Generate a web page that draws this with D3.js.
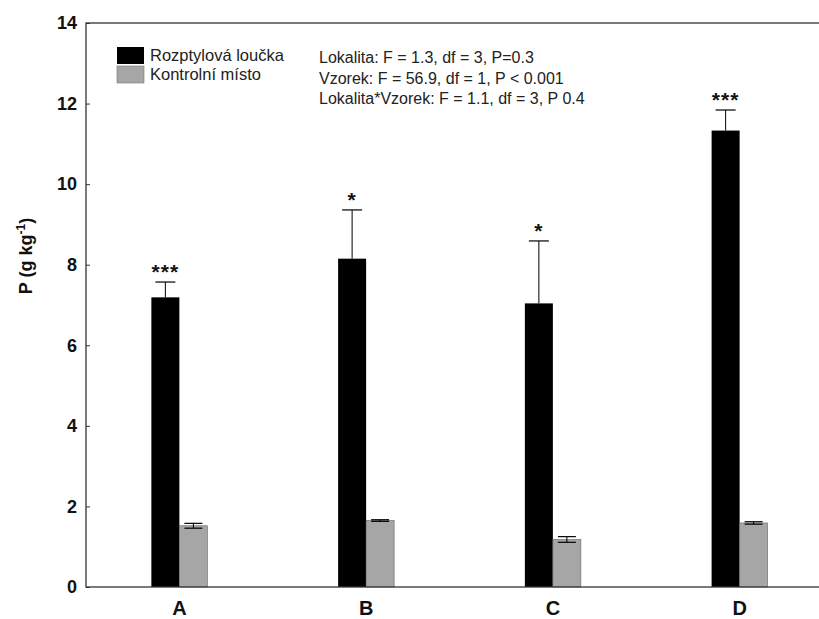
<!DOCTYPE html>
<html>
<head>
<meta charset="utf-8">
<script src="https://cdn.jsdelivr.net/npm/d3@7"></script>
<style>
  body { margin: 0; background: #fff; }
  text { font-family: "Liberation Sans", Arial, sans-serif; }
</style>
</head>
<body>
<script>
// data
var sites = ['A', 'B', 'C', 'D']
var seriesNames = ['Rozptylová loučka', 'Kontrolní místo']
var rozptyl = [7.19, 8.15, 7.04, 11.33]
var rozptylErr = [0.38, 1.21, 1.55, 0.51]
var kontrol = [1.52, 1.65, 1.18, 1.59]
var kontrolErr = [0.06, 0.02, 0.07, 0.03]
var stars = ['***', '*', '*', '***']
var yTicks = [0, 2, 4, 6, 8, 10, 12, 14]
var statLines = [
  'Lokalita: F = 1.3, df = 3, P=0.3',
  'Vzorek: F = 56.9, df = 1, P < 0.001',
  'Lokalita*Vzorek: F = 1.1, df = 3, P 0.4'
]
var colors = ['#000000', '#a6a6a6']

var margin = {top: 23, left: 86},
  width = 747,
  height = 564

var svg = d3.select('body')
  .append('svg')
  .attr('width', 819)
  .attr('height', 619)

var g = svg.append('g')
  .attr('transform', 'translate(' + margin.left + ',' + margin.top + ')')

var x = d3.scaleBand()
  .domain(sites)
  .range([0, width])
  .paddingInner(0.7)
  .paddingOuter(0.35)

var xs = d3.scaleBand()
  .domain([0, 1])
  .range([0, x.bandwidth()])

var y = d3.scaleLinear()
  .domain([0, 14])
  .range([height, 0])

// table built from the arrays
var rows = sites.map(function (s, i) {
  return [
    {site: s, k: 0, v: rozptyl[i], e: rozptylErr[i], star: stars[i]},
    {site: s, k: 1, v: kontrol[i], e: kontrolErr[i]}
  ]
})

var groups = g.selectAll('.grp')
  .data(rows)
  .enter().append('g')
  .attr('transform', function (d) { return 'translate(' + x(d[0].site) + ',0)' })

// black bar error bars: upper half only
groups.each(function (d) {
  var e = d[0]
  var cx = xs(0) + xs.bandwidth() / 2
  var sel = d3.select(this)
  sel.append('line')
    .attr('x1', cx).attr('x2', cx)
    .attr('y1', y(e.v)).attr('y2', y(e.v + e.e))
    .attr('stroke', '#000')
  sel.append('line')
    .attr('x1', cx - 10).attr('x2', cx + 10)
    .attr('y1', y(e.v + e.e)).attr('y2', y(e.v + e.e))
    .attr('stroke', '#000').attr('stroke-width', 1.2)
})

groups.selectAll('rect')
  .data(function (d) { return d })
  .enter().append('rect')
  .attr('x', function (d) { return xs(d.k) })
  .attr('width', xs.bandwidth())
  .attr('y', function (d) { return y(d.v) })
  .attr('height', function (d) { return height - y(d.v) })
  .attr('fill', function (d) { return colors[d.k] })
  .attr('stroke', function (d) { return d.k === 0 ? 'none' : '#666' })
  .attr('stroke-width', 0.6)

// gray bar error bars, both directions
groups.each(function (d) {
  var e = d[1]
  var cx = xs(1) + xs.bandwidth() / 2
  var sel = d3.select(this)
  sel.append('line')
    .attr('x1', cx).attr('x2', cx)
    .attr('y1', y(e.v - e.e)).attr('y2', y(e.v + e.e))
    .attr('stroke', '#000')
  ;[e.v - e.e, e.v + e.e].forEach(function (v) {
    sel.append('line')
      .attr('x1', cx - 9).attr('x2', cx + 9)
      .attr('y1', y(v)).attr('y2', y(v))
      .attr('stroke', '#000').attr('stroke-width', 1.2)
  })
})

// significance stars
groups.append('text')
  .attr('x', xs(0) + xs.bandwidth() / 2)
  .attr('y', function (d) { return y(d[0].v + d[0].e) - 3 })
  .attr('text-anchor', 'middle')
  .style('font-size', '21px')
  .style('font-weight', 'bold')
  .style('letter-spacing', '1px')
  .attr('fill', '#111')
  .text(function (d) { return d[0].star })

// frame
g.append('rect')
  .attr('width', width)
  .attr('height', height)
  .attr('fill', 'none')
  .attr('stroke', '#333')
  .attr('stroke-width', 1.3)

// y axis, ticks inward
var yAxis = g.append('g')
  .call(d3.axisLeft(y).tickValues(yTicks).tickSize(-4).tickPadding(9).tickFormat(d3.format('d')))
yAxis.select('.domain').remove()
yAxis.selectAll('text')
  .style('font-size', '18px')
  .style('font-weight', 'bold')
  .style('font-family', '"Liberation Sans", Arial, sans-serif')
  .attr('fill', '#111')
yAxis.selectAll('line').attr('stroke', '#333')

// x labels
var xAxis = g.append('g')
  .attr('transform', 'translate(0,' + height + ')')
  .call(d3.axisBottom(x).tickSize(0).tickPadding(14))
xAxis.select('.domain').remove()
xAxis.selectAll('text')
  .style('font-size', '20px')
  .style('font-weight', 'bold')
  .style('font-family', '"Liberation Sans", Arial, sans-serif')
  .attr('fill', '#111')

// y axis title
var yt = svg.append('text')
  .attr('transform', 'translate(32,256) rotate(-90)')
  .attr('text-anchor', 'middle')
  .style('font-size', '18px')
  .style('font-weight', 'bold')
  .attr('fill', '#111')
yt.append('tspan').text('P (g kg')
yt.append('tspan').attr('dy', -7).style('font-size', '12px').text('-1')
yt.append('tspan').attr('dy', 7).text(')')

// legend
var legend = svg.append('g')
  .attr('transform', 'translate(117,47)')
seriesNames.forEach(function (name, i) {
  legend.append('rect')
    .attr('x', 0).attr('y', i * 19)
    .attr('width', 27).attr('height', 17)
    .attr('fill', colors[i])
    .attr('stroke', i === 1 ? '#777' : 'none')
    .attr('stroke-width', 0.6)
  legend.append('text')
    .attr('x', 33).attr('y', i * 19 + 14)
    .style('font-size', '16.5px')
    .attr('fill', '#222')
    .text(name)
})

// statistics text
svg.append('g').selectAll('text')
  .data(statLines)
  .enter().append('text')
  .attr('x', 319)
  .attr('y', function (d, i) { return 63 + i * 20.5 })
  .style('font-size', '16px')
  .attr('fill', '#222')
  .text(function (d) { return d })
</script>
</body>
</html>
